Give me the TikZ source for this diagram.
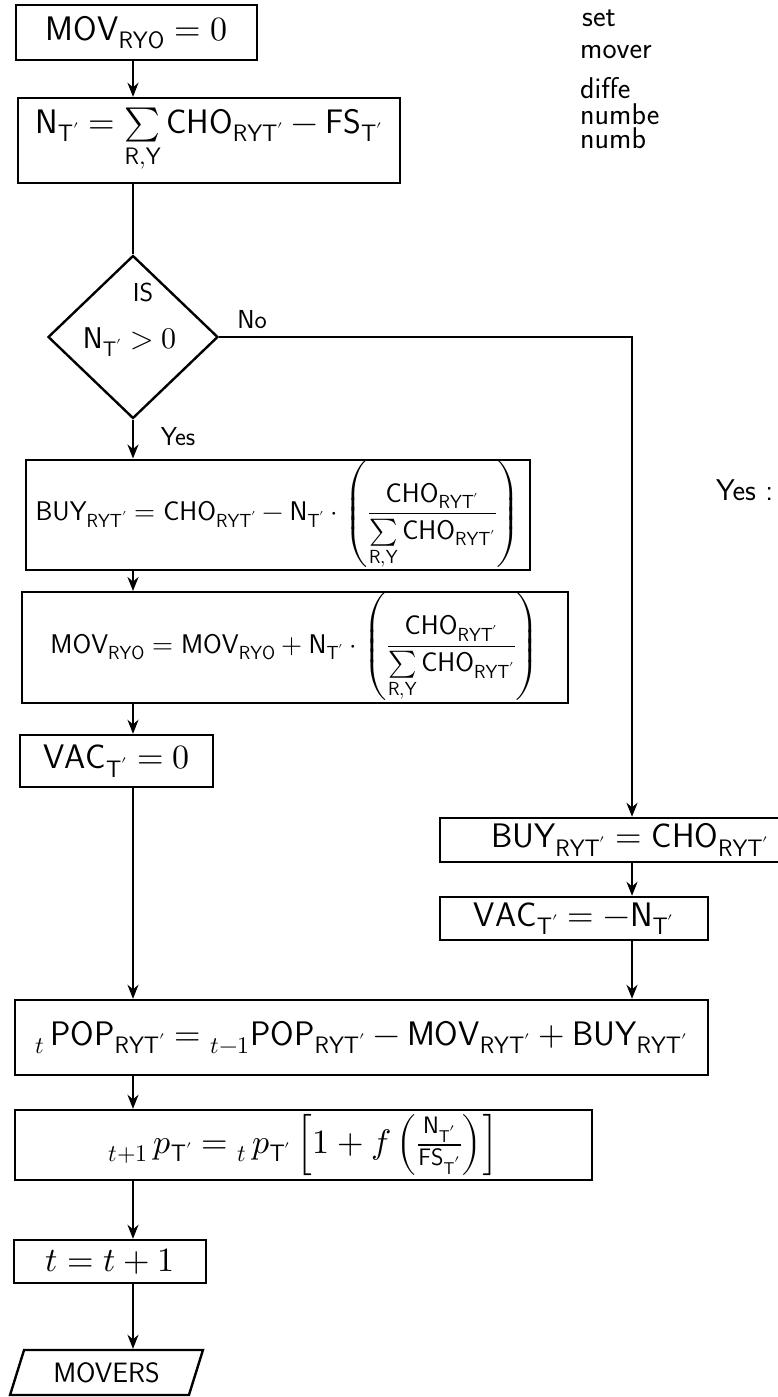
\documentclass[tikz,border=0pt]{standalone}
\usepackage{fontspec}
\usepackage{unicode-math}
\setmathfont{Latin Modern Math}
\usetikzlibrary{arrows.meta,shapes.geometric}
\newcommand\ms[1]{\mathsf{#1}}
\tikzset{
 box/.style={draw, line width=2.4pt, rectangle, inner sep=0pt, font=\fontsize{34}{38}\selectfont},
 conn/.style={line width=2.4pt},
 arr/.style={conn, -{Stealth[length=14pt,width=11pt]}},
 lab/.style={font=\sffamily\fontsize{26}{30}\selectfont, inner sep=0pt},
 note/.style={font=\sffamily\fontsize{30}{34}\selectfont, inner sep=0pt, anchor=west},
}
\begin{document}
\begin{tikzpicture}[x=1pt,y=-1pt]
\useasboundingbox (0,0) rectangle (778,1397);
\clip (0,0) rectangle (778,1397);
\node[box, minimum width=241pt, minimum height=55pt] (b1) at (136.5,32.5) {$\ms{MOV}_{\ms{RYO}} = 0$};
\node[box, minimum width=382pt, minimum height=85pt] (b2) at (209,140.5) {$\ms{N}_{\ms{T'}} = \sum\limits_{\ms{R,Y}} \ms{CHO}_{\ms{RYT'}} - \ms{FS}_{\ms{T'}}$};
\node[draw, diamond, conn, minimum width=170pt, minimum height=163pt, inner sep=0pt] (dia) at (133,337) {};
\node[lab] (is) at (143,292) {IS};
\node[inner sep=0pt, font=\fontsize{30}{34}\selectfont] (cond) at (130,342) {$\ms{N}_{\ms{T'}} > 0$};
\node[lab] (no) at (252,320) {No};
\node[lab] (yes) at (178,437) {Yes};
\node[box, minimum width=504pt, minimum height=110pt, font=\fontsize{27}{30}\selectfont] (b3) at (278,515) {$\ms{BUY}_{\ms{RYT'}} = \ms{CHO}_{\ms{RYT'}} - \ms{N}_{\ms{T'}}\cdot\left(\dfrac{\ms{CHO}_{\ms{RYT'}}}{\sum\limits_{\ms{R,Y}}\ms{CHO}_{\ms{RYT'}}}\right)$};
\node[box, minimum width=546pt, minimum height=105pt, font=\fontsize{27}{30}\selectfont] (b4) at (295,647.5) {$\ms{MOV}_{\ms{RYO}} = \ms{MOV}_{\ms{RYO}} + \ms{N}_{\ms{T'}}\cdot\left(\dfrac{\ms{CHO}_{\ms{RYT'}}}{\sum\limits_{\ms{R,Y}}\ms{CHO}_{\ms{RYT'}}}\right)$};
\node[box, minimum width=193pt, minimum height=52pt] (b5) at (116.5,761) {$\ms{VAC}_{\ms{T'}} = 0$};
\node[box, minimum width=380pt, minimum height=44pt] (b6) at (630,840) {$\ms{BUY}_{\ms{RYT'}} = \ms{CHO}_{\ms{RYT'}}$};
\node[box, minimum width=268pt, minimum height=43pt] (b7) at (574,918.5) {$\ms{VAC}_{\ms{T'}} = -\ms{N}_{\ms{T'}}$};
\node[box, minimum width=693pt, minimum height=75pt] (b8) at (361.5,1037.5) {${}_{t}\,\ms{POP}_{\ms{RYT'}} = {}_{t-1}\ms{POP}_{\ms{RYT'}} - \ms{MOV}_{\ms{RYT'}} + \ms{BUY}_{\ms{RYT'}}$};
\node[box, minimum width=577pt, minimum height=70pt] (b9) at (303.5,1145) {${}_{t+1}\,p_{\ms{T'}} = {}_{t}\,p_{\ms{T'}}\left[1 + f\left(\frac{\ms{N}_{\ms{T'}}}{\ms{FS}_{\ms{T'}}}\right)\right]$};
\node[box, minimum width=192pt, minimum height=43pt] (b10) at (110,1261.5) {$t = t + 1$};
\node[draw, conn, trapezium, trapezium left angle=66, trapezium right angle=114, trapezium stretches=true, minimum width=193pt, minimum height=45pt, inner sep=0pt, font=\sffamily\fontsize{28}{32}\selectfont] (mov) at (106.5,1372.5) {MOVERS};
% notes
\node[note] (n1) at (582,18) {set};
\node[note] (n2) at (580,52) {mover};
\node[note] (n3) at (580,88) {diffe};
\node[note] (n4) at (580,114) {numbe};
\node[note] (n5) at (580,138) {numb};
\node[note] (n6) at (716,490) {Yes :};
% connectors
\coordinate (c) at (133,0);
\coordinate (cr) at (632,0);
\draw[arr] (b1.south -| c) -- (b2.north -| c);
\draw[conn] (b2.south -| c) -- (dia.north);
\draw[arr] (dia.south) -- (b3.north -| c);
\draw[arr] (b3.south -| c) -- (b4.north -| c);
\draw[arr] (b4.south -| c) -- (b5.north -| c);
\draw[arr] (b5.south -| c) -- (b8.north -| c);
\draw[arr] (b8.south -| c) -- (b9.north -| c);
\draw[arr] (b9.south -| c) -- (b10.north -| c);
\draw[arr] (b10.south -| c) -- (mov.north -| c);
\draw[arr] (dia.east) -- (dia.east -| cr) -- (b6.north -| cr);
\draw[arr] (b6.south -| cr) -- (b7.north -| cr);
\draw[arr] (b7.south -| cr) -- (b8.north -| cr);
\end{tikzpicture}
\end{document}
